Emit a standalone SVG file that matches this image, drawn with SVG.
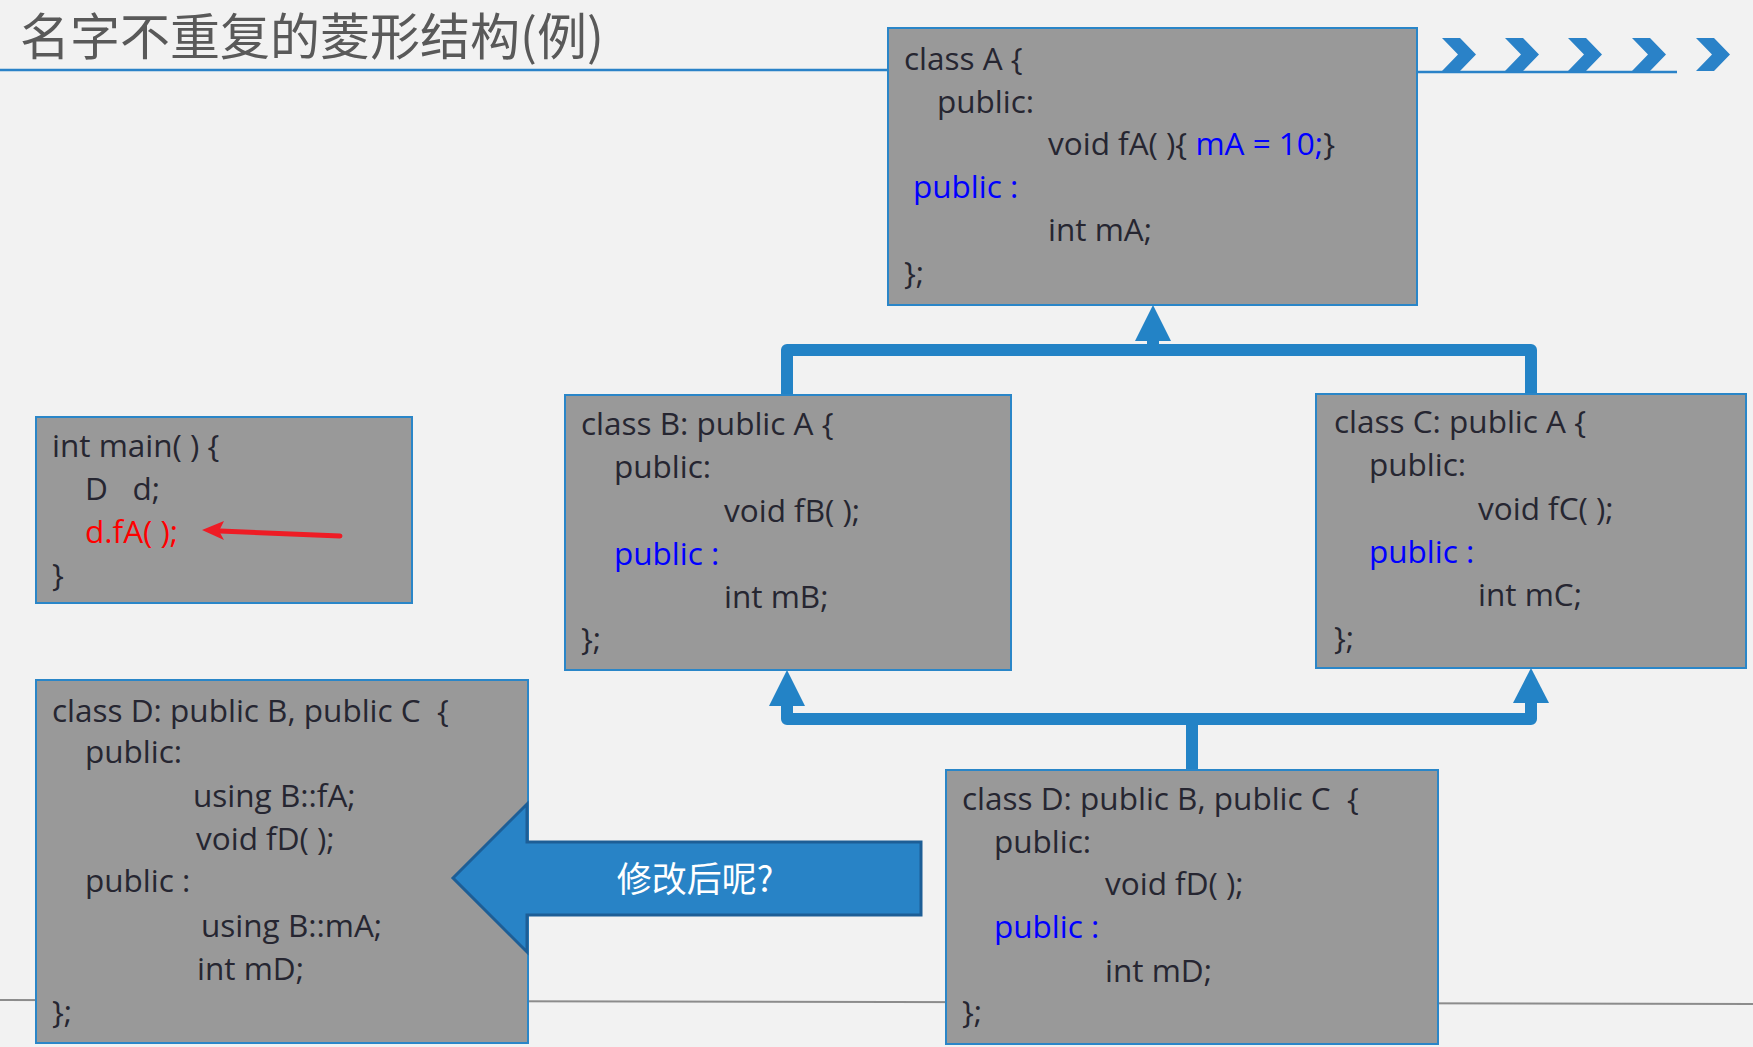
<svg xmlns="http://www.w3.org/2000/svg" width="1753" height="1047" viewBox="0 0 1753 1047">
<style>
.box{fill:#999999;stroke:#2a86c8;stroke-width:2}
.code{font-family:"Open Sans","Noto Sans",sans-serif;font-size:31.5px;fill:#262631;white-space:pre}
.blue{fill:#0000ff}
.red{fill:#ff0000}
.conn{fill:none;stroke:#2383c6;stroke-width:12;stroke-linejoin:round}
.head{fill:#2383c6}
.chev{fill:#2a82c8}
</style>
<rect width="1753" height="1047" fill="#f2f2f2"/>
<g id="title">
<text x="20" y="55" font-family="Noto Sans CJK SC, sans-serif" font-size="50" fill="#595959">名字不重复的菱形结构(例)</text>
<line x1="0" y1="70" x2="890" y2="70" stroke="#2a82c8" stroke-width="2.5"/>
<line x1="1417" y1="72" x2="1677" y2="72" stroke="#2a82c8" stroke-width="2.5"/>
</g>
<g id="chevrons">
<polygon class="chev" points="1442,38 1460,38 1476,54.5 1460,71 1442,71 1458,54.5"/>
<polygon class="chev" points="1505,38 1523,38 1539,54.5 1523,71 1505,71 1521,54.5"/>
<polygon class="chev" points="1568,38 1586,38 1602,54.5 1586,71 1568,71 1584,54.5"/>
<polygon class="chev" points="1632,38 1650,38 1666,54.5 1650,71 1632,71 1648,54.5"/>
<polygon class="chev" points="1696,38 1714,38 1730,54.5 1714,71 1696,71 1712,54.5"/>
</g>
<line x1="0" y1="1000" x2="1753" y2="1004" stroke="#8c8c8c" stroke-width="2"/>
<g id="connectors">
<path class="conn" d="M787,395 V350 H1531 V394"/>
<path class="conn" d="M1153,350 V338" stroke-linejoin="miter"/>
<polygon class="head" points="1153,305 1171,341 1135,341"/>
<path class="conn" d="M787,704 V719 H1531 V701"/>
<path class="conn" d="M1192,719 V770"/>
<polygon class="head" points="787,670 805,706 769,706"/>
<polygon class="head" points="1531,668 1549,703 1513,703"/>
</g>
<g id="classA">
<rect class="box" x="888" y="28" width="529" height="277"/>
<text class="code" x="904" y="70">class A {</text>
<text class="code" x="937" y="113">public:</text>
<text class="code" x="1048" y="155">void fA( ){ <tspan class="blue">mA = 10;</tspan>}</text>
<text class="code blue" x="913" y="198">public :</text>
<text class="code" x="1048" y="241">int mA;</text>
<text class="code" x="904" y="284">};</text>
</g>
<g id="main">
<rect class="box" x="36" y="417" width="376" height="186"/>
<text class="code" x="52" y="457">int main( ) {</text>
<text class="code" x="85" y="500">D   d;</text>
<text class="code red" x="85" y="543">d.fA( );</text>
<text class="code" x="52" y="586">}</text>
<line x1="340" y1="536" x2="220" y2="531" stroke="#ee1c25" stroke-width="5" stroke-linecap="round"/>
<polygon points="202,530 224,521 219,531 224,540" fill="#ee1c25"/>
</g>
<g id="classB">
<rect class="box" x="565" y="395" width="446" height="275"/>
<text class="code" x="581" y="435">class B: public A {</text>
<text class="code" x="614" y="478">public:</text>
<text class="code" x="724" y="522">void fB( );</text>
<text class="code blue" x="614" y="565">public :</text>
<text class="code" x="724" y="608">int mB;</text>
<text class="code" x="581" y="650">};</text>
</g>
<g id="classC">
<rect class="box" x="1316" y="394" width="430" height="274"/>
<text class="code" x="1334" y="433">class C: public A {</text>
<text class="code" x="1369" y="476">public:</text>
<text class="code" x="1478" y="520">void fC( );</text>
<text class="code blue" x="1369" y="563">public :</text>
<text class="code" x="1478" y="606">int mC;</text>
<text class="code" x="1334" y="649">};</text>
</g>
<g id="classD">
<rect class="box" x="946" y="770" width="492" height="274"/>
<text class="code" x="962" y="810">class D: public B, public C  {</text>
<text class="code" x="994" y="853">public:</text>
<text class="code" x="1105" y="895">void fD( );</text>
<text class="code blue" x="994" y="938">public :</text>
<text class="code" x="1105" y="982">int mD;</text>
<text class="code" x="962" y="1023">};</text>
</g>
<g id="classD2">
<rect class="box" x="36" y="680" width="492" height="363"/>
<text class="code" x="52" y="722">class D: public B, public C  {</text>
<text class="code" x="85" y="763">public:</text>
<text class="code" x="193" y="807">using B::fA;</text>
<text class="code" x="196" y="850">void fD( );</text>
<text class="code" x="85" y="892">public :</text>
<text class="code" x="201" y="937">using B::mA;</text>
<text class="code" x="197" y="980">int mD;</text>
<text class="code" x="52" y="1023">};</text>
</g>
<g id="bigArrow">
<polygon points="453,878 527,804 527,842 921,842 921,915 527,915 527,952" fill="#2883c6" stroke="#1d5e96" stroke-width="3" stroke-linejoin="miter"/>
<text x="695" y="892" text-anchor="middle" font-family="Noto Sans CJK SC, sans-serif" font-size="35" fill="#ffffff">修改后呢?</text>
</g>
</svg>
